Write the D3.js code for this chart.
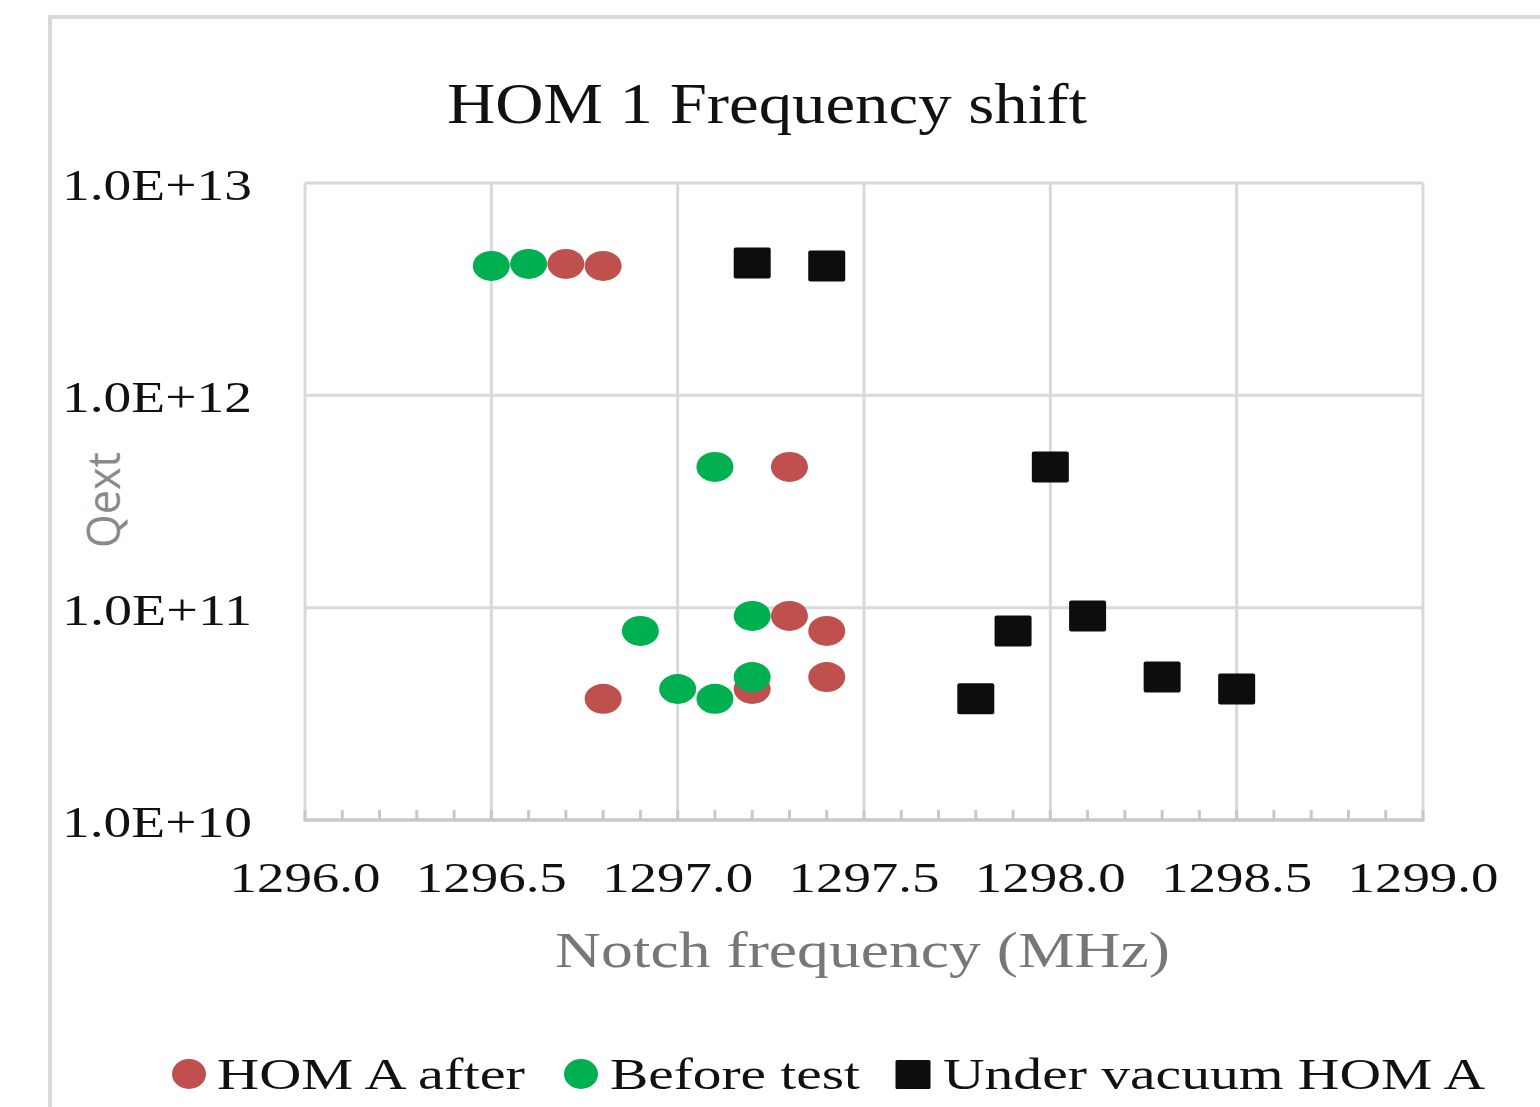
<!DOCTYPE html>
<html><head><meta charset="utf-8">
<script src="https://cdn.jsdelivr.net/npm/d3@7"></script>
<style>html,body{margin:0;padding:0;background:#fff;}svg{display:block;}</style>
</head><body>
<script>
// ---- data ----
const seriesNames = ["HOM A after", "Before test", "Under vacuum HOM A"];
const homAfterX = [1296.7, 1296.8, 1297.3, 1297.3, 1297.4, 1297.4, 1296.8, 1297.2];
const homAfterY = [4.16e12, 4.07e12, 4.6e11, 9.14e10, 7.77e10, 4.71e10, 3.72e10, 4.14e10];
const beforeX = [1296.5, 1296.6, 1297.1, 1296.9, 1297.2, 1297.0, 1297.1, 1297.2];
const beforeY = [4.07e12, 4.16e12, 4.6e11, 7.77e10, 9.14e10, 4.14e10, 3.72e10, 4.71e10];
const vacuumX = [1297.2, 1297.4, 1298.0, 1297.9, 1298.1, 1298.3, 1298.5, 1297.8];
const vacuumY = [4.2e12, 4.07e12, 4.6e11, 7.77e10, 9.14e10, 4.71e10, 4.14e10, 3.72e10];
const xTicks = [1296.0, 1296.5, 1297.0, 1297.5, 1298.0, 1298.5, 1299.0];
const yTicks = [1e10, 1e11, 1e12, 1e13];
const yTickLabels = ["1.0E+10", "1.0E+11", "1.0E+12", "1.0E+13"];
const title = "HOM 1 Frequency shift";
const xTitle = "Notch frequency (MHz)";
const yTitle = "Qext";

const W = 1540, H = 1107;
const svg = d3.select("body").append("svg").attr("width", W).attr("height", H);
const serif = "'Liberation Serif','Times New Roman',serif";
const grid = "#d9d9d9";

// outer frame
svg.append("path").attr("d", "M50,1110 L50,17 L1545,17")
  .attr("fill", "none").attr("stroke", grid).attr("stroke-width", 4);

const x = d3.scaleLinear().domain([1296, 1299]).range([305, 1423]);
const y = d3.scaleLog().domain([1e10, 1e13]).range([820, 183]);

// gridlines
svg.append("g").selectAll("line").data(yTicks.slice(1)).join("line")
  .attr("x1", x(1296)).attr("x2", x(1299)).attr("y1", d => y(d)).attr("y2", d => y(d))
  .attr("stroke", grid).attr("stroke-width", 3);
svg.append("g").selectAll("line").data(xTicks).join("line")
  .attr("y1", y(1e13)).attr("y2", y(1e10)).attr("x1", d => x(d)).attr("x2", d => x(d))
  .attr("stroke", grid).attr("stroke-width", 3);

// x axis with minor ticks
const minor = d3.range(0, 31).map(i => 1296 + i * 0.1);
svg.append("g").selectAll("line").data(minor).join("line")
  .attr("x1", d => x(d)).attr("x2", d => x(d)).attr("y1", 820).attr("y2", 810)
  .attr("stroke", "#c8c8c8").attr("stroke-width", 3);
svg.append("line").attr("x1", x(1296) - 1.5).attr("x2", x(1299) + 1.5).attr("y1", 820).attr("y2", 820)
  .attr("stroke", "#c8c8c8").attr("stroke-width", 3.5);

// tick labels
svg.append("g").selectAll("text").data(xTicks).join("text")
  .attr("x", d => x(d)).attr("y", 892).attr("text-anchor", "middle")
  .attr("font-family", serif).attr("font-size", 42).attr("fill", "#111")
  .attr("textLength", 151).attr("lengthAdjust", "spacingAndGlyphs")
  .text(d => d.toFixed(1));
svg.append("g").selectAll("text").data(yTicks).join("text")
  .attr("x", 62).attr("y", d => y(d) + 17)
  .attr("font-family", serif).attr("font-size", 44).attr("fill", "#111")
  .attr("textLength", 190).attr("lengthAdjust", "spacingAndGlyphs")
  .text((d, i) => yTickLabels[i]);

// titles
svg.append("text").attr("x", 447).attr("y", 123)
  .attr("font-family", serif).attr("font-size", 58).attr("fill", "#111")
  .attr("textLength", 640).attr("lengthAdjust", "spacingAndGlyphs").text(title);
svg.append("text").attr("x", 555).attr("y", 967)
  .attr("font-family", serif).attr("font-size", 50).attr("fill", "#777")
  .attr("textLength", 615).attr("lengthAdjust", "spacingAndGlyphs").text(xTitle);
svg.append("text").attr("transform", "translate(120,548) rotate(-90)")
  .attr("font-family", "'Open Sans','Noto Sans',sans-serif").attr("font-size", 46).attr("fill", "#8a8a8a")
  .attr("textLength", 96).attr("lengthAdjust", "spacingAndGlyphs").text(yTitle);

// markers
const colors = ["#c0504d", "#00b050", "#0d0d0d"];
const pts = (xs, ys) => xs.map((v, i) => ({x: v, y: ys[i]}));
const drawEll = (data, c) => svg.append("g").selectAll("ellipse").data(data).join("ellipse")
  .attr("cx", d => x(d.x)).attr("cy", d => y(d.y)).attr("rx", 18.5).attr("ry", 15).attr("fill", c);
drawEll(pts(homAfterX, homAfterY), colors[0]);
drawEll(pts(beforeX, beforeY), colors[1]);
svg.append("g").selectAll("rect").data(pts(vacuumX, vacuumY)).join("rect")
  .attr("x", d => x(d.x) - 18.5).attr("y", d => y(d.y) - 15.5).attr("width", 37).attr("height", 31)
  .attr("rx", 2).attr("fill", colors[2]);

// legend
const leg = [
  {shape: "e", cx: 189, tx: 217, tw: 308},
  {shape: "e", cx: 581, tx: 610, tw: 250},
  {shape: "r", cx: 913, tx: 943, tw: 542}
];
leg.forEach((l, i) => {
  if (l.shape === "e") svg.append("ellipse").attr("cx", l.cx).attr("cy", 1074).attr("rx", 17).attr("ry", 15).attr("fill", colors[i]);
  else svg.append("rect").attr("x", l.cx - 17.5).attr("y", 1060).attr("width", 35).attr("height", 29).attr("rx", 1.5).attr("fill", colors[i]);
  svg.append("text").attr("x", l.tx).attr("y", 1089).attr("font-family", serif).attr("font-size", 44).attr("fill", "#111")
    .attr("textLength", l.tw).attr("lengthAdjust", "spacingAndGlyphs").text(seriesNames[i]);
});
</script>
</body></html>
